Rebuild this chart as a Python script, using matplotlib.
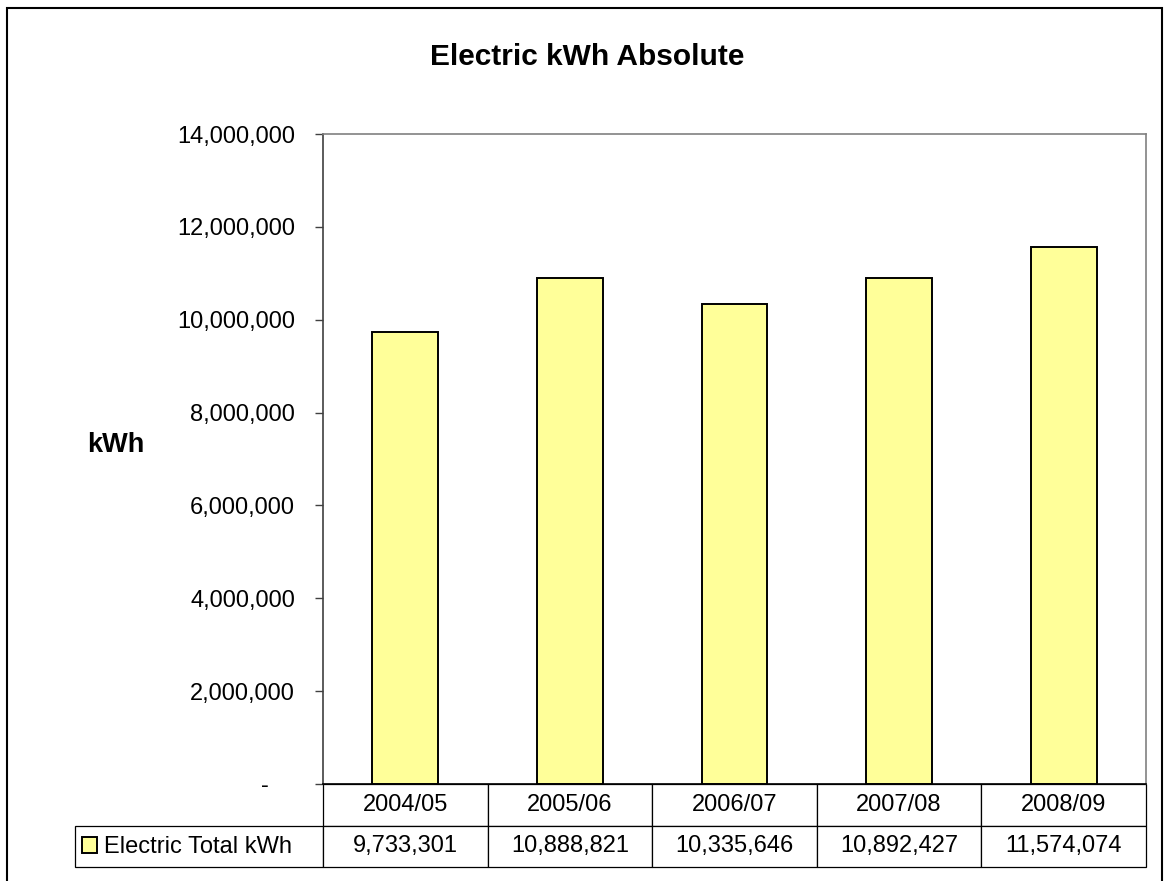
import matplotlib.pyplot as plt
from matplotlib.patches import Rectangle
from matplotlib.ticker import FuncFormatter, MultipleLocator

periods = ["2004/05", "2005/06", "2006/07", "2007/08", "2008/09"]
electric_kwh = [9733301, 10888821, 10335646, 10892427, 11574074]
series_name = "Electric Total kWh"

W, H = 1165, 881
plt.rcParams["font.family"] = ["Liberation Sans", "DejaVu Sans"]

fig = plt.figure(figsize=(W / 100, H / 100), dpi=100)
fig.patch.set_facecolor("white")

# plot area in pixels: x 323..1146, y 134..784
ax = fig.add_axes([323 / W, 1 - 784 / H, (1146 - 323) / W, (784 - 134) / H])

x = range(len(periods))
bars = ax.bar(x, electric_kwh, width=0.4, color="#FFFF99", edgecolor="black",
              linewidth=1.4, label=series_name, zorder=3)

ax.set_xlim(-0.5, len(periods) - 0.5)
ax.set_ylim(0, 14000000)
ax.yaxis.set_major_locator(MultipleLocator(2000000))
ax.yaxis.set_major_formatter(FuncFormatter(
    lambda v, p: "-    " if v == 0 else f"{int(v):,}"))
ax.set_xticks([])
ax.tick_params(axis="y", direction="out", length=6, width=1,
               color="#404040", labelsize=17, pad=14)

ax.spines["left"].set_color("#404040")
ax.spines["bottom"].set_color("black")
ax.spines["top"].set_color("#808080")
ax.spines["right"].set_color("#808080")
for s in ax.spines.values():
    s.set_linewidth(1.2)

fig.text(0.504, 1 - 57 / H, "Electric kWh Absolute", ha="center", va="center",
         fontsize=21.5, fontweight="bold")
fig.text(116 / W, 1 - 445 / H, "kWh", ha="center", va="center",
         fontsize=19.5, fontweight="bold")

# data table under the axis
ax_w = 1146 - 323
ax_h = 784 - 134
label_w = 323 - 75
table_h = 867 - 784
cell_text = [[""] + periods,
             [""] + [f"{v:,}" for v in electric_kwh]]
col_w = [label_w / (label_w + ax_w)] + [ax_w / 5 / (label_w + ax_w)] * 5
tbl = ax.table(cellText=cell_text, cellLoc="center", colWidths=col_w,
               bbox=[-label_w / ax_w, -table_h / ax_h, (label_w + ax_w) / ax_w, table_h / ax_h])
tbl.auto_set_font_size(False)
tbl.set_fontsize(17)
for (r, c), cell in tbl.get_celld().items():
    cell.set_edgecolor("black")
    cell.set_linewidth(0.9)
tbl[0, 0].visible_edges = "open"

# legend key inside the row-label cell
row2_y = -(847 - 784) / ax_h
ax.legend(handles=[bars], loc="center left", bbox_to_anchor=(-(323 - 82) / ax_w, row2_y),
          frameon=False, fontsize=17, handlelength=0.65, handleheight=0.65,
          handletextpad=0.3, borderpad=0, borderaxespad=0)

# outer chart border (bottom edge is cut off in the original)
fig.patches.append(Rectangle((7 / W, -0.05), (1162 - 7) / W, 1 - 8 / H + 0.05,
                             transform=fig.transFigure, fill=False,
                             edgecolor="black", linewidth=1.5))

fig.savefig("out.png", dpi=100)
